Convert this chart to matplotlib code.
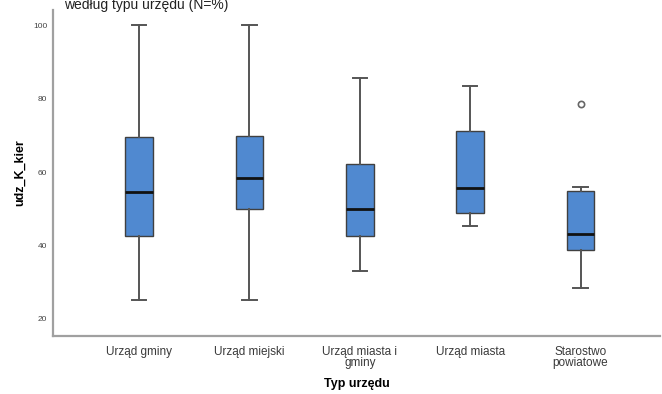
import matplotlib
matplotlib.use("Agg")
import matplotlib.pyplot as plt

# Office types and their box-plot summaries (udz_K_kier)
categories = ["Urząd gminy", "Urząd miejski", "Urząd miasta i\ngminy", "Urząd miasta", "Starostwo\npowiatowe"]
whisker_low = [25.0, 25.0, 33.1, 45.3, 28.4]
q1 = [42.7, 49.8, 42.7, 48.9, 38.8]
median = [54.5, 58.4, 49.9, 55.7, 43.2]
q3 = [69.5, 69.9, 62.3, 71.3, 54.9]
whisker_high = [100.0, 100.0, 85.6, 83.4, 56.0]
outliers = [[], [], [], [], [78.7]]
y_ticks = [20, 40, 60, 80, 100]

plt.rcParams["font.family"] = ["Liberation Sans", "DejaVu Sans"]

fig = plt.figure(figsize=(6.62, 3.94), dpi=100)
ax = fig.add_axes([53 / 662, 58 / 394, 607 / 662, 326 / 394])

stats = []
for i, name in enumerate(categories):
    stats.append(dict(label=name, whislo=whisker_low[i], q1=q1[i], med=median[i],
                      q3=q3[i], whishi=whisker_high[i], fliers=outliers[i]))

positions = list(range(1, len(categories) + 1))
ax.bxp(stats, positions=positions, widths=0.25, capwidths=0.13, patch_artist=True,
       showfliers=True,
       boxprops=dict(facecolor="#5089D0", edgecolor="#404040", linewidth=1.0),
       medianprops=dict(color="#111111", linewidth=2.0),
       whiskerprops=dict(color="#555555", linewidth=1.4),
       capprops=dict(color="#555555", linewidth=1.4),
       flierprops=dict(marker="o", markersize=4.5, markerfacecolor="none",
                       markeredgecolor="#666666", markeredgewidth=1.2))

ax.set_xlim(0.22, 5.72)
ax.set_ylim(15.3, 104.2)
ax.set_yticks(y_ticks)
ax.set_yticklabels([str(v) for v in y_ticks], fontsize=6, color="#444444")
ax.set_xticks(positions)
ax.set_xticklabels(categories, fontsize=8.5, color="#3a3a3a", linespacing=0.95)
ax.tick_params(axis="both", length=0)
ax.tick_params(axis="y", pad=4)
ax.tick_params(axis="x", pad=7)

for side in ("top", "right"):
    ax.spines[side].set_visible(False)
for side in ("left", "bottom"):
    ax.spines[side].set_color("#a0a0a0")
    ax.spines[side].set_linewidth(1.6)

ax.set_ylabel("udz_K_kier", fontsize=9, fontweight="bold", labelpad=5)
ax.set_xlabel("Typ urzędu", fontsize=9, fontweight="bold", labelpad=6)

# Heading line above the plot
fig.text(228 / 662, 1 - 9.5 / 394, "według typu urzędu (N=%)", ha="right",
         va="baseline", fontsize=10, color="#222222")

fig.savefig("out.png", dpi=100)
